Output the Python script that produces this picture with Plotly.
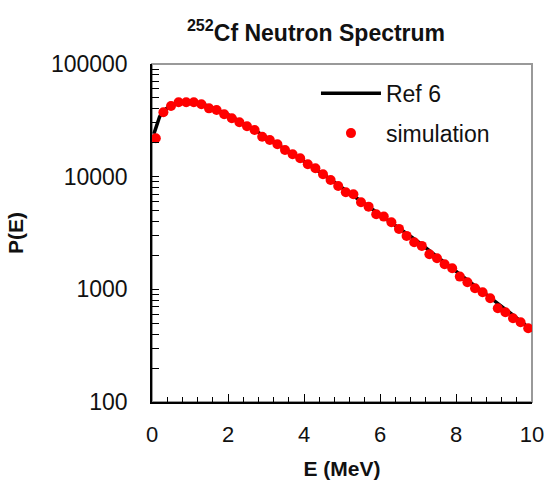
import plotly.graph_objects as go

# Simulation data (E in MeV, P(E))
sim_E = [0.1, 0.3, 0.5, 0.7, 0.9, 1.1, 1.3, 1.5, 1.7, 1.9,
         2.1, 2.3, 2.5, 2.7, 2.9, 3.1, 3.3, 3.5, 3.7, 3.9,
         4.1, 4.3, 4.5, 4.7, 4.9, 5.1, 5.3, 5.5, 5.7, 5.9,
         6.1, 6.3, 6.5, 6.7, 6.9, 7.1, 7.3, 7.5, 7.7, 7.9,
         8.1, 8.3, 8.5, 8.7, 8.9, 9.1, 9.3, 9.5, 9.7, 9.9]
sim_P = [21900, 37300, 42400, 45700, 45700, 45700, 43900, 40400, 39100, 35800,
         33000, 30400, 28000, 25960, 22640, 21170, 19390, 17260, 15800, 14560,
         12880, 11870, 10500, 9350, 8270, 7270, 6980, 5930, 5420, 4640,
         4420, 3940, 3440, 2980, 2620, 2430, 2050, 1890, 1670, 1540,
         1297, 1156, 1023, 943, 834, 680, 627, 554, 511, 452]

# Reference spectrum (Ref 6)
ref_E = [0.05, 0.1, 0.2, 0.3, 0.5, 0.75, 1.0, 1.25, 1.5, 2.0, 2.5, 3.0, 3.5,
         4.0, 4.5, 5.0, 5.5, 6.0, 6.5, 7.0, 7.5, 8.0, 8.5, 9.0, 9.5, 10.0]
ref_P = [24000, 27500, 34000, 38500, 43000, 45500, 45800, 45000, 42000, 35500,
         28500, 22500, 17500, 13700, 10500, 8000, 6000, 4600, 3500, 2650,
         1950, 1450, 1080, 800, 590, 430]

y_tickvals = [100, 1000, 10000, 100000]
y_ticktext = ["100", "1000", "10000", "100000"]
y_minor_tickvals = [200, 300, 400, 500, 600, 700, 800, 900,
                    2000, 3000, 4000, 5000, 6000, 7000, 8000, 9000,
                    20000, 30000, 40000, 50000, 60000, 70000, 80000, 90000]
x_tickvals = [0, 2, 4, 6, 8, 10]

FONT = "Liberation Sans, Arial, sans-serif"

fig = go.Figure()
fig.add_trace(go.Scatter(x=ref_E, y=ref_P, mode="lines", name="Ref 6",
                         legendgroup="a",
                         line=dict(color="black", width=3.5)))
fig.add_trace(go.Scatter(x=sim_E, y=sim_P, mode="markers", name="simulation",
                         legendgroup="b",
                         marker=dict(color="#ff0000", size=10,
                                     line=dict(width=0))))

fig.update_layout(
    width=547, height=485,
    margin=dict(l=152, r=15, t=64, b=83, autoexpand=False),
    paper_bgcolor="white", plot_bgcolor="white",
    font=dict(family=FONT, size=23, color="#111111"),
    title=dict(text="<b><sup>252</sup>Cf Neutron Spectrum</b>",
               x=316 / 547, xanchor="center", y=1 - 33 / 485, yanchor="middle",
               font=dict(size=23, family=FONT, color="#111111")),
    showlegend=True,
    legend=dict(x=0.4315, y=0.977, xanchor="left", yanchor="top",
                bgcolor="rgba(0,0,0,0)", borderwidth=0,
                traceorder="grouped", tracegroupgap=7,
                font=dict(size=23, family=FONT, color="#111111"),
                itemwidth=60),
    shapes=[dict(type="rect", xref="paper", yref="paper", x0=0, x1=1, y0=0, y1=1,
                 line=dict(color="#999999", width=2), layer="below")],
)

fig.update_xaxes(range=[0, 10], tickvals=x_tickvals, automargin=False,
                 showline=True, linecolor="black", linewidth=1.5,
                 ticks="inside", ticklen=8, tickcolor="black", tickwidth=1,
                 minor=dict(ticks="inside", ticklen=5, dtick=0.4, tickcolor="black",
                            showgrid=False),
                 showgrid=False, zeroline=False,
                 tickfont=dict(size=22),
                 ticklabelstandoff=12,
                 title=dict(text="<b>E (MeV)</b>", font=dict(size=21, family=FONT),
                            standoff=15))

fig.update_yaxes(type="log", range=[2, 5], tickvals=y_tickvals, ticktext=y_ticktext,
                 automargin=False,
                 showline=True, linecolor="black", linewidth=1.5,
                 ticks="inside", ticklen=7, tickcolor="black", tickwidth=1,
                 minor=dict(ticks="inside", ticklen=7, tickcolor="black",
                            tickmode="array", tickvals=y_minor_tickvals,
                            showgrid=False),
                 showgrid=False, zeroline=False,
                 ticklabelstandoff=18,
                 title=dict(text="<b>P(E)</b>", font=dict(size=21, family=FONT),
                            standoff=22))

fig.write_html("out.html",
               config={"displayModeBar": False},
               post_script="document.body.style.margin='0';"
                           "document.body.style.overflow='hidden';")
